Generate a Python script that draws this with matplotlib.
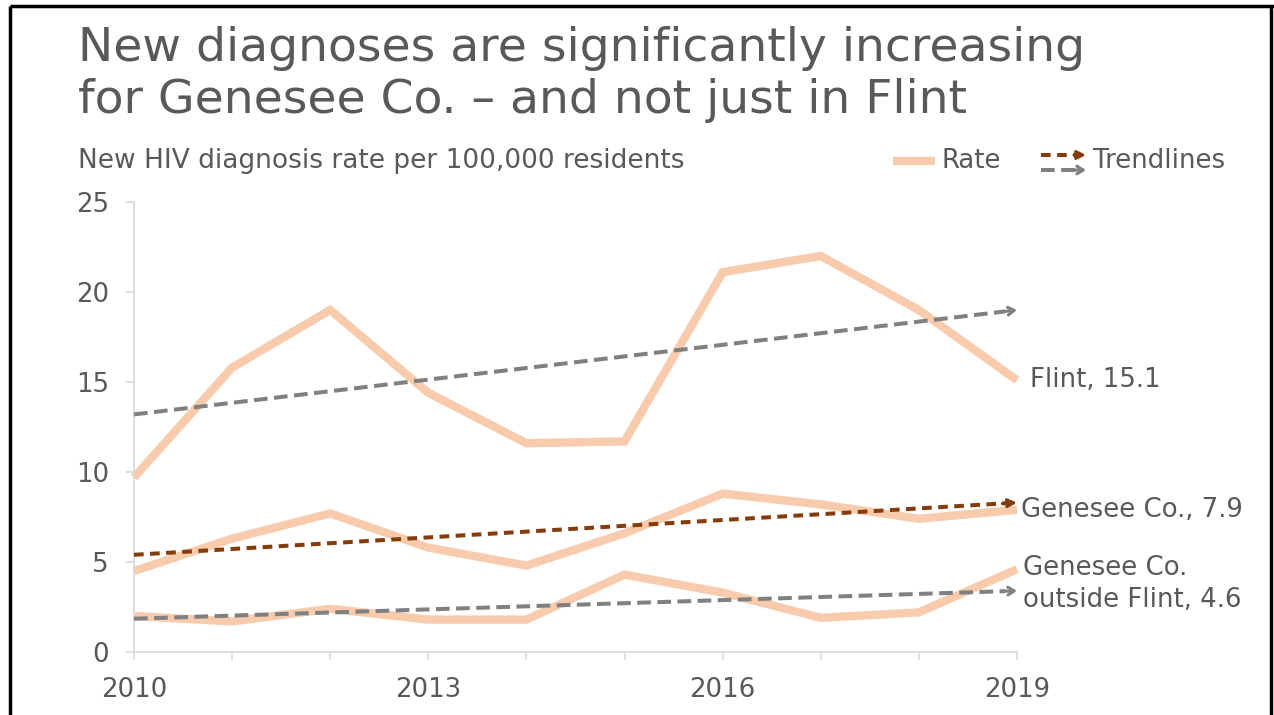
import matplotlib.pyplot as plt
from matplotlib.lines import Line2D
from matplotlib.patches import FancyArrowPatch

plt.rcParams["font.family"] = ["DejaVu Sans"]

years = list(range(2010, 2020))
flint = [9.7, 15.8, 19.0, 14.4, 11.6, 11.7, 21.1, 22.0, 19.0, 15.1]
genesee = [4.5, 6.3, 7.7, 5.8, 4.8, 6.6, 8.8, 8.2, 7.4, 7.9]
outside = [2.0, 1.7, 2.4, 1.8, 1.8, 4.3, 3.3, 1.9, 2.2, 4.6]

# trendline end values (2010, 2019)
trend_flint = [13.2, 19.0]
trend_genesee = [5.4, 8.3]
trend_outside = [1.85, 3.4]

end_labels = ["Flint, 15.1", "Genesee Co., 7.9", "Genesee Co.\noutside Flint, 4.6"]
xtick_years = [2010, 2013, 2016, 2019]

PEACH = "#F8CBAD"
BROWN = "#843C0C"
GREY = "#808080"
TEXT = "#595959"
AXIS = "#D9D9D9"
FS = 18.7

GREY_DASH = (3.4, 1.6)
BROWN_DASH = (2.4, 1.6)
GREY_HEAD = "->,head_length=0.45,head_width=0.28"
BROWN_HEAD = "-|>,head_length=0.5,head_width=0.25"

fig = plt.figure(figsize=(12.74, 7.15), dpi=100)
ax = fig.add_axes([134 / 1274, 1 - 652 / 715, 883 / 1274, 450 / 715])

for series in (flint, genesee, outside):
    ax.plot(years, series, color=PEACH, lw=6, solid_capstyle="butt",
            solid_joinstyle="miter", clip_on=False, zorder=2)


def trend(vals, color, dashes, head):
    x0, x1 = years[0], years[-1]
    slope = (vals[1] - vals[0]) / (x1 - x0)
    ax.plot([x0, x1 - 0.12], [vals[0], vals[1] - slope * 0.12],
            color=color, lw=2.9, dashes=dashes, dash_capstyle="butt",
            clip_on=False, zorder=3)
    ax.annotate("", xy=(x1, vals[1]), xytext=(x1 - 0.15, vals[1] - slope * 0.15),
                arrowprops=dict(arrowstyle=head, color=color, lw=2.2,
                                shrinkA=0, shrinkB=0),
                annotation_clip=False, zorder=3)


trend(trend_flint, GREY, GREY_DASH, GREY_HEAD)
trend(trend_genesee, BROWN, BROWN_DASH, BROWN_HEAD)
trend(trend_outside, GREY, GREY_DASH, GREY_HEAD)

ax.set_xlim(2010, 2019)
ax.set_ylim(0, 25)
ax.set_yticks([0, 5, 10, 15, 20, 25])
ax.set_xticks(years)
ax.set_xticklabels([str(y) if y in xtick_years else "" for y in years])
for s in ("top", "right"):
    ax.spines[s].set_visible(False)
for s in ("left", "bottom"):
    ax.spines[s].set_color(AXIS)
    ax.spines[s].set_linewidth(1.2)
ax.tick_params(colors=AXIS, labelcolor=TEXT, labelsize=FS, length=6, width=1.2)
ax.tick_params(axis="x", pad=12)
ax.tick_params(axis="y", pad=12)

# labels at line ends
ax.text(2019.13, flint[-1], end_labels[0], color=TEXT, fontsize=FS, va="center")
ax.text(2019.04, genesee[-1], end_labels[1], color=TEXT, fontsize=FS, va="center")
ax.text(2019.06, 3.78, end_labels[2], color=TEXT, fontsize=FS, va="center",
        linespacing=1.3)

# title and subtitle
fig.text(78 / 1274, 1 - 26 / 715,
         "New diagnoses are significantly increasing\nfor Genesee Co. \u2013 and not just in Flint",
         color=TEXT, fontsize=34, va="top", linespacing=1.2)
fig.text(78 / 1274, 1 - 161 / 715, "New HIV diagnosis rate per 100,000 residents",
         color=TEXT, fontsize=19, va="center")

# legend
fig.add_artist(Line2D([893 / 1274, 935 / 1274], [1 - 161 / 715] * 2,
                      color=PEACH, lw=6, solid_capstyle="butt"))
fig.text(941 / 1274, 1 - 161 / 715, "Rate", color=TEXT, fontsize=FS, va="center")
for yy, col, dash, head in ((155, BROWN, BROWN_DASH, BROWN_HEAD),
                            (170, GREY, GREY_DASH, GREY_HEAD)):
    fig.add_artist(Line2D([1041 / 1274, 1076 / 1274], [1 - yy / 715] * 2,
                          color=col, lw=2.9, dashes=dash))
    fig.add_artist(FancyArrowPatch(
        (1074 / 1274, 1 - yy / 715), (1086 / 1274, 1 - yy / 715),
        transform=fig.transFigure, arrowstyle=head, color=col, lw=2.2,
        shrinkA=0, shrinkB=0, mutation_scale=10))
fig.text(1093 / 1274, 1 - 161 / 715, "Trendlines", color=TEXT, fontsize=FS, va="center")

# slide frame
frame = dict(color="black", lw=2.5, solid_capstyle="butt")
fig.add_artist(Line2D([10 / 1274, 10 / 1274], [0, 1 - 6 / 715], **frame))
fig.add_artist(Line2D([10 / 1274, 1], [1 - 6 / 715] * 2, **frame))
fig.add_artist(Line2D([1271 / 1274] * 2, [0, 1 - 6 / 715], **frame))

fig.savefig("out.png", dpi=100)
